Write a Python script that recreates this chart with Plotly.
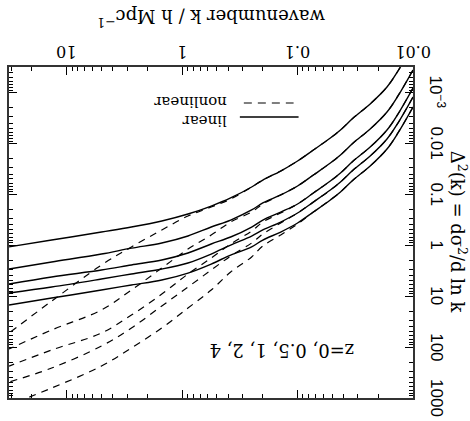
import math
import plotly.graph_objects as go

# wavenumber grid (h/Mpc)
k = [0.01, 0.0135, 0.0168, 0.0235, 0.033, 0.0425, 0.052, 0.073, 0.1, 0.14,
     0.2, 0.25, 0.38, 0.56, 0.89, 1.5, 2.75, 5.0, 13.5, 31.6]

# linear Delta^2(k)
lin_z0 = [1.93e-3, 6.25e-3, 0.0129, 0.0278, 0.0524, 0.0901, 0.129, 0.223, 0.366, 0.550,
          0.791, 1.08, 1.56, 2.34, 3.52, 4.82, 6.04, 7.58, 10.9, 14.9]
lin_z05 = [1.23e-3, 3.98e-3, 8.20e-3, 0.0177, 0.0333, 0.0573, 0.0824, 0.142, 0.233, 0.350,
           0.502, 0.659, 0.991, 1.49, 2.23, 2.93, 3.67, 4.61, 6.62, 8.67]
lin_z1 = [8.18e-4, 2.65e-3, 5.46e-3, 0.0118, 0.0222, 0.0382, 0.0548, 0.0943, 0.155, 0.223,
          0.320, 0.439, 0.690, 0.946, 1.42, 1.95, 2.44, 3.07, 4.21, 5.78]
lin_z2 = [3.62e-4, 1.17e-3, 2.42e-3, 5.22e-3, 9.83e-3, 0.0169, 0.0243, 0.0418, 0.0687, 0.103,
          0.148, 0.203, 0.320, 0.439, 0.659, 0.904, 1.14, 1.49, 2.14, 2.93]
lin_z4 = [1.17e-4, 3.79e-4, 7.81e-4, 1.68e-3, 3.18e-3, 5.46e-3, 7.84e-3, 0.0135, 0.0222, 0.0349,
          0.0524, 0.0719, 0.118, 0.170, 0.244, 0.334, 0.439, 0.550, 0.791, 1.08]

# nonlinear Delta^2(k)
nl_z0 = [1.93e-3, 6.25e-3, 0.0129, 0.0278, 0.0524, 0.0901, 0.129, 0.223, 0.383, 0.630,
         1.035, 1.70, 3.36, 7.58, 17.1, 42.2, 104.0, 236.0, 637.0, 1374.0]
nl_z05 = [1.23e-3, 3.98e-3, 8.20e-3, 0.0177, 0.0333, 0.0573, 0.0824, 0.142, 0.233, 0.366,
          0.602, 0.904, 1.63, 3.07, 6.62, 15.6, 42.2, 95.3, 258.0, 485.0]
nl_z1 = [8.18e-4, 2.65e-3, 5.46e-3, 0.0118, 0.0222, 0.0382, 0.0548, 0.0943, 0.155, 0.233,
         0.350, 0.526, 0.946, 1.78, 3.67, 9.08, 23.5, 53.0, 114.0, 236.0]
nl_z2 = [3.62e-4, 1.17e-3, 2.42e-3, 5.22e-3, 9.83e-3, 0.0169, 0.0243, 0.0418, 0.0687, 0.103,
         0.155, 0.223, 0.350, 0.630, 1.19, 2.80, 7.58, 18.7, 46.2, 109.0]
nl_z4 = [1.17e-4, 3.79e-4, 7.81e-4, 1.68e-3, 3.18e-3, 5.46e-3, 7.84e-3, 0.0135, 0.0222, 0.0349,
         0.0524, 0.0719, 0.124, 0.178, 0.267, 0.502, 1.08, 2.45, 12.5, 53.0]

x_tickvals = [0.01, 0.1, 1, 10]
x_ticktext = ["0.01", "0.1", "1", "10"]
y_tickvals = [1e-3, 1e-2, 1e-1, 1, 10, 100, 1000]
y_ticktext = ["10<sup>\u22123</sup>", "0.01", "0.1", "1", "10", "100", "1000"]

SERIF = "DejaVu Serif"
SANS = "Liberation Sans"

fig = go.Figure()
for ys in [nl_z0, nl_z05, nl_z1, nl_z2, nl_z4]:
    fig.add_trace(go.Scatter(x=k, y=ys, mode="lines",
                             line=dict(color="black", width=1.2, dash="7px,6px",
                                       shape="spline", smoothing=1.0),
                             showlegend=False, hoverinfo="skip"))
for ys in [lin_z0, lin_z05, lin_z1, lin_z2, lin_z4]:
    fig.add_trace(go.Scatter(x=k, y=ys, mode="lines",
                             line=dict(color="black", width=1.4,
                                       shape="spline", smoothing=1.0),
                             showlegend=False, hoverinfo="skip"))

W, H = 470, 421
L, R, T, B = 7, 57, 67, 23
pw, ph = W - L - R, H - T - B

def px(xp):
    return (xp - L) / pw

def py(yp):
    return (H - B - yp) / ph

axis_common = dict(type="log", showgrid=False, zeroline=False, showline=True,
                   linecolor="#333", linewidth=1.5, mirror="allticks",
                   ticks="inside", ticklen=8, tickwidth=1, tickcolor="black",
                   minor=dict(ticks="inside", ticklen=4, dtick="D1", tickcolor="black",
                              tickwidth=1, showgrid=False),
                   tickmode="array", showticklabels=False)

fig.update_xaxes(range=[1.5, -2], side="top", tickvals=x_tickvals, **axis_common)
fig.update_yaxes(range=[3, -3.5], side="right", tickvals=y_tickvals, **axis_common)

annotations = []
# tick labels (upside-down, as in the reference)
for v, t in zip(x_tickvals, x_ticktext):
    annotations.append(dict(text=t, x=math.log10(v), y=py(52), xref="x", yref="paper",
                            showarrow=False, textangle=180,
                            font=dict(family=SERIF, size=16, color="black"),
                            xanchor="center", yanchor="middle"))
for v, t in zip(y_tickvals, y_ticktext):
    annotations.append(dict(text=t, x=px(437), y=math.log10(v), xref="paper", yref="y",
                            showarrow=False, textangle=90,
                            font=dict(family=SANS, size=17, color="black"),
                            xanchor="center", yanchor="middle"))

annotations += [
    dict(text="wavenumber k / h Mpc<sup>\u22121</sup>", x=0.5, y=py(18), xref="paper", yref="paper",
         showarrow=False, textangle=180, font=dict(family=SERIF, size=18, color="black"),
         xanchor="center", yanchor="middle"),
    dict(text="\u0394<sup>2</sup>(k) = d\u03c3<sup>2</sup>/d ln k", x=px(459), y=0.5,
         xref="paper", yref="paper", showarrow=False, textangle=90,
         font=dict(family=SERIF, size=18, color="black"), xanchor="center", yanchor="middle"),
    dict(text="z=0, 0.5, 1, 2, 4", x=px(281), y=py(351), xref="paper", yref="paper",
         showarrow=False, textangle=180, font=dict(family=SERIF, size=18, color="black"),
         xanchor="center", yanchor="middle"),
    dict(text="linear", x=px(228), y=py(121), xref="paper", yref="paper",
         showarrow=False, textangle=180, font=dict(family=SERIF, size=15, color="black"),
         xanchor="right", yanchor="middle"),
    dict(text="nonlinear", x=px(228), y=py(102), xref="paper", yref="paper",
         showarrow=False, textangle=180, font=dict(family=SERIF, size=15, color="black"),
         xanchor="right", yanchor="middle"),
]

shapes = [
    dict(type="line", xref="paper", yref="paper", x0=px(239), x1=px(298), y0=py(117), y1=py(117),
         line=dict(color="black", width=1.4)),
    dict(type="line", xref="paper", yref="paper", x0=px(243), x1=px(293), y0=py(103), y1=py(103),
         line=dict(color="black", width=1.2, dash="8px,6px")),
]

fig.update_layout(width=W, height=H, margin=dict(l=L, r=R, t=T, b=B),
                  paper_bgcolor="white", plot_bgcolor="white",
                  annotations=annotations, shapes=shapes, showlegend=False)

fig.write_html("out.html")
